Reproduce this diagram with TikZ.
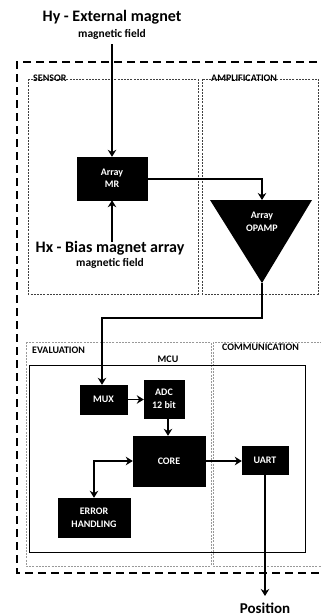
\documentclass[tikz,border=0pt]{standalone}
\usepackage{fontspec}
\setmainfont{Carlito}
\usetikzlibrary{arrows.meta}
\begin{document}
\begin{tikzpicture}[x=1pt,y=-1pt,
  blk/.style={fill=black,draw=black,text=white,font=\bfseries\fontsize{10}{12.5}\selectfont,align=center,inner sep=0pt},
  conn/.style={line width=1.8pt,-{Stealth[length=7pt,width=8.5pt]}},
  zone/.style={draw=black!75,line width=0.7pt,dash pattern=on 2pt off 1.2pt},
  zonelbl/.style={anchor=north west,font=\bfseries\fontsize{10}{12}\selectfont,text=black,inner sep=0pt},
  big/.style={font=\bfseries\fontsize{16}{18}\selectfont,inner sep=0pt},
  small/.style={font=\bfseries\fontsize{11.5}{13}\selectfont,inner sep=0pt}]
\useasboundingbox (0,0) rectangle (321,616);
% outer dashed frame
\draw[line width=1.8pt,dash pattern=on 8pt off 5pt] (330,62) -- (17,62) -- (17,573) -- (330,573);
% zones
\draw[zone] (28,79) rectangle (198,294);
\draw[zone] (202,79) rectangle (318,294);
\draw[zone,draw=gray!80] (26,342) rectangle (211,566);
\draw[zone,draw=gray!80] (213,342) rectangle (322,566);
\node[zonelbl] (lsensor) at (33,75) {SENSOR};
\node[zonelbl] (lamp) at (211,75) {AMPLIFICATION};
\node[zonelbl] (leval) at (32,347) {EVALUATION};
\node[zonelbl] (lcomm) at (222,344) {COMMUNICATION};
% MCU
\draw[line width=1pt] (29,365) rectangle (305,552);
\node[font=\bfseries\fontsize{10}{12}\selectfont,inner sep=0pt] (lmcu) at (168,359) {MCU};
% titles
\node[big] (hy) at (112,17) {Hy - External magnet};
\node[small] (hyf) at (112,34) {magnetic field};
\node[big] (hx) at (110,248) {Hx - Bias magnet array};
\node[small] (hxf) at (110,263) {magnetic field};
\node[font=\bfseries\fontsize{15}{17}\selectfont,inner sep=0pt] (pos) at (265,608) {Position};
% blocks
\node[blk,minimum width=70pt,minimum height=43pt] (mr) at (112,178.5) {Array\\MR};
\node[blk,minimum width=47pt,minimum height=29pt] (mux) at (103.5,399.5) {MUX};
\node[blk,minimum width=40pt,minimum height=38pt] (adc) at (164,399) {ADC\\12 bit};
\node[blk,minimum width=72pt,minimum height=50pt] (core) at (169,461) {CORE};
\node[blk,minimum width=46pt,minimum height=28pt] (uart) at (265,460) {UART};
\node[blk,minimum width=72pt,minimum height=39pt] (err) at (94,517.5) {ERROR\\HANDLING};
% opamp triangle
\coordinate (tl) at (210,200);
\coordinate (tr) at (312,200);
\coordinate (tip) at (262,283);
\fill (tl) -- (tr) -- (tip) -- cycle;
\node[font=\bfseries\fontsize{10}{12.5}\selectfont,text=white,align=center,inner sep=0pt] (opamp) at (262,222) {Array\\OPAMP};
\coordinate (optop) at (262,200);
% connectors
\draw[conn] (hyf.south -| mr.north) ++(0,5) -- (mr.north);
\draw[conn] (hxf.north -| mr.south) ++(0,-16) -- (mr.south);
\draw[conn] (mr.east |- 0,179) -| (optop);
\draw[conn] (tip) -- (262,318) -| (mux.north -| 102,0);
\draw[conn] (mux) -- (adc.west |- mux);
\draw[conn] (adc.south -| 168,0) -- (core.north -| 168,0);
\draw[conn] (core) -- (uart.west |- core);
\draw[conn,{Stealth[length=7pt,width=8.5pt]}-{Stealth[length=7pt,width=8.5pt]}] (err.north) |- (core.west);
\draw[conn] (uart.south) -- (265,596);
\end{tikzpicture}
\end{document}
